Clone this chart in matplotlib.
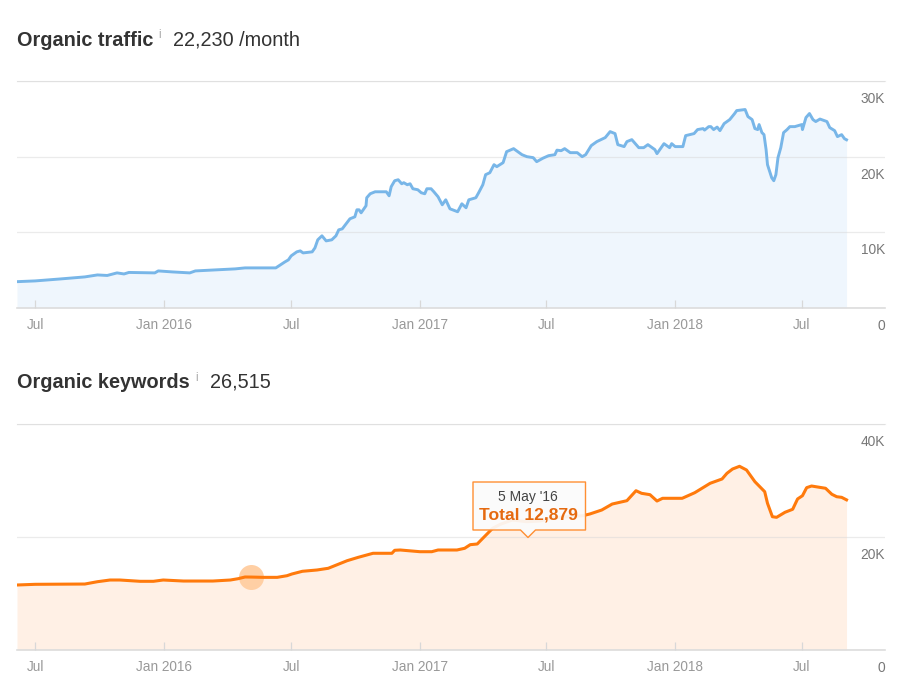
import numpy as np
import matplotlib
matplotlib.use("Agg")
import matplotlib.pyplot as plt
from matplotlib.patches import Polygon
from matplotlib.transforms import ScaledTranslation

plt.rcParams['font.family'] = ['Liberation Sans', 'DejaVu Sans']

START = np.datetime64('2015-07-01')

traffic_days = [-26,0,36,71,89,103,117,127,134,171,176,196,221,229,286,300,324,344,357,362,366,374,379,383,396,400,404,410,416,424,430,434,439,450,457,460,463,466,473,474,479,486,502,506,509,514,519,524,527,532,536,540,547,552,557,560,566,570,576,582,587,593,604,610,616,620,630,634,640,644,650,656,660,669,674,684,696,703,712,717,726,734,743,746,752,757,765,775,782,787,795,803,815,822,829,833,842,846,853,863,870,876,886,889,899,907,910,915,926,930,936,942,947,955,957,963,966,970,975,979,985,993,1000,1003,1015,1019,1025,1029,1033,1035,1039,1042,1045,1047,1053,1056,1059,1062,1066,1070,1075,1079,1086,1096,1097,1102,1107,1112,1116,1122,1132,1136,1143,1147,1153,1157,1160]
traffic_values = [3480,3580,3840,4110,4370,4300,4640,4500,4700,4640,4900,4770,4640,4900,5170,5300,5300,5300,6090,6360,6890,7420,7550,7280,7420,7950,9010,9540,8870,9010,9540,10330,10460,11790,12050,12980,12980,12580,13510,14570,15100,15360,15360,14830,16030,16820,16950,16420,16560,16290,16420,15760,15630,15230,15100,15760,15760,15360,14700,13640,14300,13110,12720,13770,13250,14300,14570,15230,16290,17620,17880,18940,18680,19210,20660,21060,20260,20000,19870,19340,19800,20130,20260,20860,20790,21060,20530,20530,20000,20260,21460,21990,22520,23310,23050,21590,21330,21990,22250,21190,21190,21590,20930,20400,21720,21190,21720,21330,21330,22780,22910,23050,23580,23710,23510,23970,23970,23580,23910,23440,24370,24900,25700,26090,26230,25300,24900,23710,23580,24240,23180,22910,20930,18940,17220,16820,17620,19870,21190,23180,23580,23970,23970,24240,23580,25170,25700,24900,24640,24970,24640,23840,23440,22650,22910,22380,22230]

keyword_days = [-26,0,71,89,107,121,150,169,183,212,254,279,290,300,309,326,346,360,367,382,403,419,446,462,483,510,514,522,550,567,576,593,603,614,622,632,640,654,665,682,703,722,740,783,793,810,825,846,859,867,879,889,897,925,943,965,982,989,997,1007,1017,1029,1043,1047,1054,1060,1072,1083,1090,1097,1103,1110,1130,1139,1146,1153,1160]
keyword_values = [11480,11600,11650,12060,12360,12360,12130,12130,12360,12180,12180,12360,12590,12890,12879,12830,12830,13120,13420,13900,14130,14430,15770,16370,17080,17080,17610,17660,17360,17360,17660,17660,17660,17960,18600,18720,19730,21490,22200,22960,22660,22780,23360,23720,24020,24720,25780,26370,28130,27670,27430,26310,26790,26790,27780,29440,30200,31200,31960,32440,31790,29720,27960,25910,23540,23430,24320,24850,26670,27250,28670,28960,28560,27500,27070,26960,26515]

tick_dates = ['2015-07-01','2016-01-01','2016-07-01','2017-01-01','2017-07-01','2018-01-01','2018-07-01']
tick_labels = ['Jul','Jan 2016','Jul','Jan 2017','Jul','Jan 2018','Jul']
traffic_ticks = [0,10000,20000,30000]
traffic_tick_labels = ['0','10K','20K','30K']
keyword_ticks = [0,20000,40000]
keyword_tick_labels = ['0','20K','40K']

hover_day = 309
hover_value = 12879

W, H = 903, 700
fig = plt.figure(figsize=(W/100, H/100), dpi=100, facecolor='white')

def fx(px): return px/W
def fy(py): return 1-py/H

def make_axes(top, bottom):
    return fig.add_axes([fx(17), fy(bottom), (885-17)/W, (bottom-top)/H])

def style(ax, days, values, line, fill, ymax, yticks, ylabels, lw):
    dates = START + np.array(days).astype('timedelta64[D]')
    ax.fill_between(dates, 0, values, color=fill, lw=0, zorder=1)
    ax.plot(dates, values, color=line, lw=lw, solid_joinstyle='round', zorder=4)
    ax.set_xlim(np.datetime64('2015-06-05'), np.datetime64('2018-10-28'))
    ax.set_ylim(0, ymax)
    for s in ['left','right']:
        ax.spines[s].set_visible(False)
    ax.spines['top'].set_color('#eaeaea'); ax.spines['top'].set_linewidth(0.8)
    ax.spines['bottom'].set_color('#dddddd'); ax.spines['bottom'].set_linewidth(1.2)
    ax.set_xticks(np.array(tick_dates, dtype='datetime64[D]'))
    ax.set_xticklabels(tick_labels)
    ax.tick_params(axis='x', direction='in', length=5.8, width=0.9, color='#d8d8d8',
                   labelsize=9.8, labelcolor='#999999', pad=7.4)
    ax.yaxis.tick_right()
    ax.set_yticks(yticks)
    ax.set_yticklabels(ylabels)
    ax.tick_params(axis='y', length=0, pad=0, labelsize=9.9, labelcolor='#777777')
    off = ScaledTranslation(0, -16.5/100, fig.dpi_scale_trans)
    for lab in ax.get_yticklabels():
        lab.set_ha('right')
        lab.set_transform(lab.get_transform()+off)
    ax.grid(axis='y', color='#d8d8d8', alpha=0.5, lw=0.9, zorder=2)
    ax.set_axisbelow(False)
    for t in ax.xaxis.get_major_ticks():
        t.gridline.set_visible(False)

ax1 = make_axes(81, 308)
style(ax1, traffic_days, traffic_values, '#78b6e8', '#eff6fd', 30000, traffic_ticks, traffic_tick_labels, 2.1)
ax2 = make_axes(423.5, 650)
style(ax2, keyword_days, keyword_values, '#ff7a0c', '#fff0e5', 40000, keyword_ticks, keyword_tick_labels, 2.2)

ax2.plot(START + np.timedelta64(hover_day, 'D'), hover_value, 'o', ms=18, mfc='#ffcfa4', mec='none', zorder=3)

# headings
fig.text(fx(17), fy(40.5), 'Organic traffic', fontsize=14.3, fontweight='bold', color='#333333', va='center')
fig.text(fx(158.5), fy(35.5), 'i', fontsize=8.5, color='#aaaaaa', va='center')
fig.text(fx(173.5), fy(40.5), '22,230 /month', fontsize=14.3, color='#333333', va='center')
fig.text(fx(17), fy(382.5), 'Organic keywords', fontsize=14.3, fontweight='bold', color='#333333', va='center')
fig.text(fx(195.5), fy(378), 'i', fontsize=8.5, color='#aaaaaa', va='center')
fig.text(fx(210), fy(382.5), '26,515', fontsize=14.3, color='#333333', va='center')

# tooltip
L, R, T, B = 473, 585.5, 482, 530
tip = [(L,T),(R,T),(R,B),(535.5,B),(528,537.5),(520.5,B),(L,B)]
fig.add_artist(Polygon([(fx(x), fy(y)) for x, y in tip], closed=True, transform=fig.transFigure,
                       facecolor='#fbfbfb', alpha=0.93, edgecolor='none', zorder=10))
fig.add_artist(Polygon([(fx(x), fy(y)) for x, y in tip], closed=True, transform=fig.transFigure,
                       facecolor='none', edgecolor='#ff8f33', lw=1.0, joinstyle='round', zorder=11))
fig.text(fx(528), fy(496.5), "5 May '16", fontsize=10, color='#444444', ha='center', va='center', zorder=12)
fig.text(fx(528.5), fy(515), 'Total 12,879', fontsize=12.6, fontweight='bold', color='#e56a10', ha='center', va='center', zorder=12)

fig.savefig('out.png', dpi=100, facecolor='white')
